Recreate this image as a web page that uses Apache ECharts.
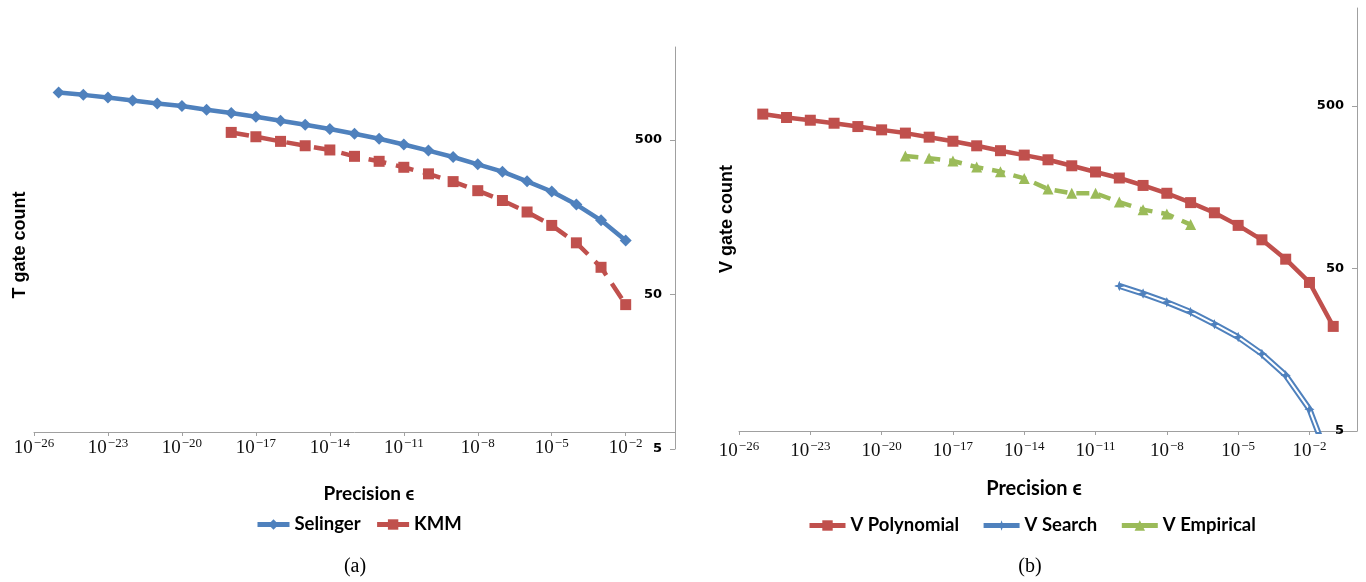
<!DOCTYPE html>
<html><head><meta charset="utf-8">
<script src="https://cdn.jsdelivr.net/npm/echarts@6/dist/echarts.min.js"></script>
<style>html,body{margin:0;padding:0;background:#fff}#c{width:1366px;height:582px}</style>
</head><body><div id="c"></div>
<script>
// ---- Data (precision exponents: epsilon = 10^exp) ----
const selingerExp = [-25,-24,-23,-22,-21,-20,-19,-18,-17,-16,-15,-14,-13,-12,-11,-10,-9,-8,-7,-6,-5,-4,-3,-2];
const selingerT   = [1014,980,942,900,861,829,784,747,707,666,628,589,549,510,468,427,388,348,312,270,232,191,151,112];
const kmmExp = [-18,-17,-16,-15,-14,-13,-12,-11,-10,-9,-8,-7,-6,-5,-4,-3,-2];
const kmmT   = [560,525,490,459,431,392,364,333,302,269,235,203,171,140,108,75,43];

const polyExp = [-25,-24,-23,-22,-21,-20,-19,-18,-17,-16,-15,-14,-13,-12,-11,-10,-9,-8,-7,-6,-5,-4,-3,-2,-1];
const polyV   = [445,424,408,391,373,356,340,321,303,284,265,249,233,214,196,180,162,145,127,110,92,75,57,41,22];
const searchExp = [-10,-9,-8,-7,-6,-5,-4,-3,-2,-1];
const searchV   = [39,35,31,27,22.7,18.9,14.9,11.0,6.8,2.8];
const empExp = [-19,-18,-17,-16,-15,-14,-13,-12,-11,-10,-9,-8,-7];
const empV   = [246,238,229,210,197,179,154,145,145,128,115,108,93];

// tick labels
const xTickExp = [-26,-23,-20,-17,-14,-11,-8,-5,-2];
const yTicks = [5,50,500];
const xMinExp = -26, xMaxExp = 0;
const yMin = 5, yMax = 2000;

const BLUE = '#4F81BD', RED = '#C0504D', GREEN = '#9BBB59', AX = '#a0a0a0';
const STAR = 'path://M0,-10 L2.6,-2.6 L10,0 L2.6,2.6 L0,10 L-2.6,2.6 L-10,0 L-2.6,-2.6 Z';

function pts(exps, vals){ return exps.map((e,i)=>[Math.pow(10,e), vals[i]]); }
const xTickVals = xTickExp.map(e=>Math.pow(10,e));

function xAxisDef(grid, offset, margin){
  return {
    type:'log', logBase:10, gridIndex:grid, offset:offset,
    min:Math.pow(10,xMinExp), max:Math.pow(10,xMaxExp),
    axisLine:{show:true,onZero:false,lineStyle:{color:AX,width:1}},
    axisTick:{show:true,length:4,lineStyle:{color:AX},customValues:xTickVals},
    splitLine:{show:false}, minorTick:{show:false},
    axisLabel:{
      customValues:xTickVals, margin:margin,
      formatter:function(v){
        const e = Math.round(Math.log10(v));
        return '{b|10}{s|' + (e<0?'\u2212':'') + Math.abs(e) + '}';
      },
      rich:{
        b:{fontFamily:'Liberation Serif',fontSize:19,color:'#111',verticalAlign:'bottom'},
        s:{fontFamily:'Liberation Serif',fontSize:13,color:'#111',padding:[0,0,8,1],verticalAlign:'bottom'}
      }
    }
  };
}
function yAxisDef(grid){
  return {
    type:'log', logBase:10, gridIndex:grid, position:'right',
    min:yMin, max:yMax,
    axisLine:{show:true,onZero:false,lineStyle:{color:AX,width:1}},
    axisTick:{show:true,inside:true,length:5,lineStyle:{color:AX},customValues:yTicks},
    splitLine:{show:false}, minorTick:{show:false},
    axisLabel:{inside:true, margin:13, customValues:yTicks,
      fontFamily:'DejaVu Sans', fontWeight:'bold', fontSize:13, color:'#000',
      formatter:function(v){ return String(Math.round(v)); }}
  };
}

const chart = echarts.init(document.getElementById('c'), null, {renderer:'canvas'});
const txt = (x,y,t,font,rot)=>({type:'text', x:x, y:y, rotation:rot||0,
  style:{text:t, font:font, fill:'#000', textAlign:'center', textVerticalAlign:'middle'}});
const legendText = {fontFamily:'Lato',fontWeight:'bold',fontSize:18.5,color:'#000'};

chart.setOption({
  animation:false,
  backgroundColor:'#fff',
  grid:[
    {left:34, right:691, top:47, height:402},
    {left:739, right:9, top:8, height:423}
  ],
  xAxis:[ xAxisDef(0,-17,5), xAxisDef(1,0,9) ],
  yAxis:[ yAxisDef(0), yAxisDef(1) ],
  legend:[
    {left:250, top:510, itemWidth:32, itemHeight:13, itemGap:14, textStyle:legendText,
     lineStyle:{width:5,type:'solid'}, data:['Selinger','KMM']},
    {left:802, top:511, itemWidth:36, itemHeight:13, itemGap:22, textStyle:legendText,
     lineStyle:{width:5,type:'solid'}, data:['V Polynomial','V Search','V Empirical']}
  ],
  series:[
    {name:'Selinger', type:'line', xAxisIndex:0, yAxisIndex:0, data:pts(selingerExp,selingerT),
     symbol:'diamond', symbolSize:12, color:BLUE, lineStyle:{width:4.5,color:BLUE}, itemStyle:{color:BLUE}},
    {name:'KMM', type:'line', xAxisIndex:0, yAxisIndex:0, data:pts(kmmExp,kmmT),
     symbol:'rect', symbolSize:11, color:RED, lineStyle:{width:4.5,color:RED,type:[18,10]}, itemStyle:{color:RED}},
    {name:'V Polynomial', type:'line', xAxisIndex:1, yAxisIndex:1, data:pts(polyExp,polyV),
     symbol:'rect', symbolSize:11, color:RED, lineStyle:{width:4.5,color:RED}, itemStyle:{color:RED}},
    {name:'V Search', type:'line', xAxisIndex:1, yAxisIndex:1, data:pts(searchExp,searchV),
     symbol:STAR, symbolSize:10, color:BLUE, lineStyle:{width:6,color:BLUE}, itemStyle:{color:BLUE}, clip:true},
    {name:'V Search', type:'line', xAxisIndex:1, yAxisIndex:1, data:pts(searchExp,searchV),
     symbol:STAR, symbolSize:10, color:BLUE, lineStyle:{width:2,color:'#fff'}, itemStyle:{color:BLUE}, clip:true},
    {name:'V Empirical', type:'line', xAxisIndex:1, yAxisIndex:1, data:pts(empExp,empV),
     symbol:'triangle', symbolSize:11, color:GREEN, lineStyle:{width:4.5,color:GREEN,type:[13,9]}, itemStyle:{color:GREEN}}
  ],
  graphic:[
    txt(20,245,'T gate count','bold 18px "Liberation Sans"',Math.PI/2),
    txt(727,219,'V gate count','bold 18px "Liberation Sans"',Math.PI/2),
    txt(369,494,'Precision \u03F5','bold 19px Lato'),
    txt(1034,489,'Precision \u03F5','bold 20px Lato'),
    txt(355,567,'(a)','20px "Liberation Serif"'),
    txt(1030,567,'(b)','20px "Liberation Serif"')
  ]
});
</script></body></html>
